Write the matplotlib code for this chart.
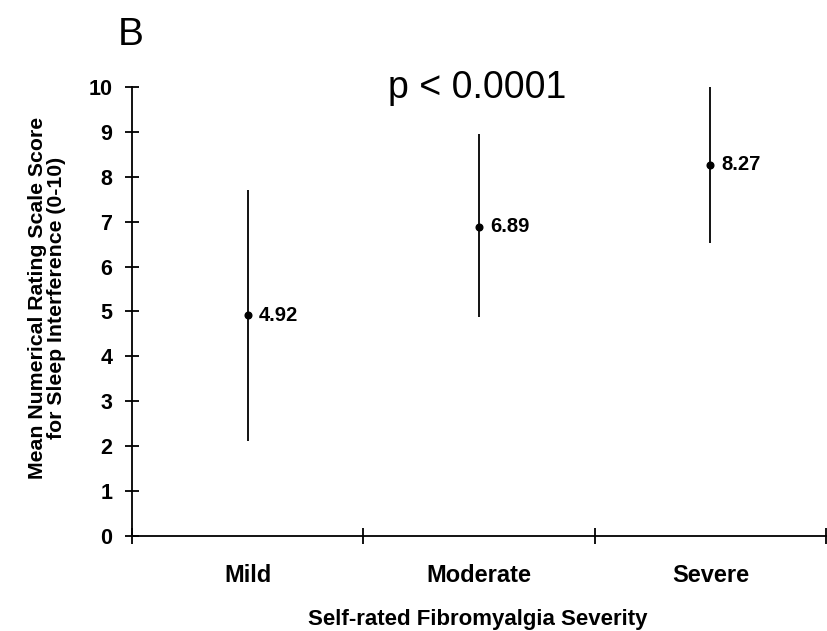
import matplotlib.pyplot as plt
import numpy as np

categories = ['Mild', 'Moderate', 'Severe']
means = [4.92, 6.89, 8.27]
lower = [2.12, 4.88, 6.52]
upper = [7.70, 8.95, 10.0]
value_labels = ['4.92', '6.89', '8.27']
yticks = list(range(0, 11))

bold_font = ['Liberation Sans', 'DejaVu Sans']
plain_font = ['Liberation Sans', 'DejaVu Sans']


def main():
    fig = plt.figure(figsize=(8.27, 6.31), dpi=100)
    ax = fig.add_axes([0.1596, 0.1506, 0.8392, 0.7116])

    x = np.arange(len(categories))
    ax.vlines(x, lower, upper, color='black', lw=1.3)
    ax.plot(x, means, 'o', color='black', ms=4.8)
    for xi, m, lab in zip(x, means, value_labels):
        ax.annotate(lab, (xi, m), xytext=(8, 0), textcoords='offset points',
                    va='center', ha='left', fontsize=14.5, fontweight='bold',
                    family=bold_font)

    ax.set_xlim(-0.5, 2.5)
    ax.set_ylim(0, 10)
    ax.spines['top'].set_visible(False)
    ax.spines['right'].set_visible(False)
    ax.spines['left'].set_linewidth(1.3)
    ax.spines['bottom'].set_linewidth(1.3)

    ax.set_xticks(x)
    ax.set_xticklabels(categories, fontsize=17, fontweight='bold', family=bold_font)
    ax.set_xticks([-0.5, 0.5, 1.5, 2.5], minor=True)
    ax.tick_params(axis='x', which='major', length=0, pad=20)
    ax.tick_params(axis='x', which='minor', direction='inout', length=11, width=1.3)

    ax.set_yticks(yticks)
    ax.set_yticklabels([str(t) for t in yticks], fontsize=15.5, fontweight='bold',
                       family=bold_font)
    ax.tick_params(axis='y', direction='inout', length=10, width=1.3, pad=9)

    ax.set_xlabel('Self-rated Fibromyalgia Severity', fontsize=16, fontweight='bold',
                  family=bold_font, va='center')
    ax.xaxis.set_label_coords(0.498, -0.186)
    ax.set_ylabel('Mean Numerical Rating Scale Score\nfor Sleep Interference (0-10)',
                  fontsize=15.3, fontweight='bold', family=bold_font,
                  linespacing=1.0)
    ax.yaxis.set_label_coords(-0.095, 0.53)

    fig.text(0.577, 0.86, 'p < 0.0001', fontsize=27, ha='center', va='center',
             family=plain_font)
    fig.text(0.142, 0.945, 'B', fontsize=28, ha='left', va='center',
             family=plain_font)

    fig.savefig('out.png', dpi=100)


if __name__ == '__main__':
    main()
